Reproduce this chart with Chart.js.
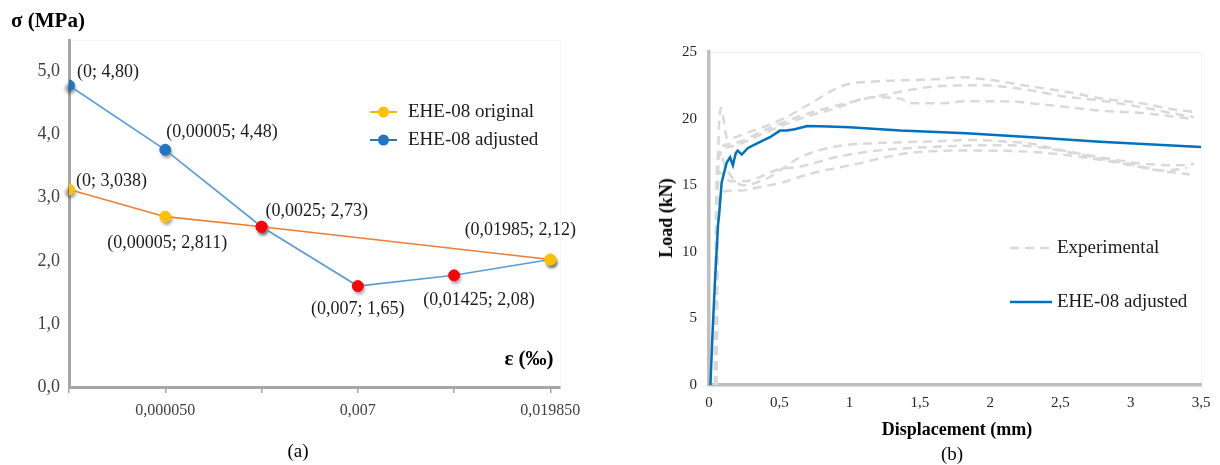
<!DOCTYPE html>
<html>
<head>
<meta charset="utf-8">
<script src="https://cdn.jsdelivr.net/npm/chart.js@4.4.1/dist/chart.umd.min.js"></script>
<style>
  body { margin: 0; background: #fff; width: 1220px; height: 465px; position: relative; overflow: hidden;
         font-family: 'Liberation Serif', 'Times New Roman', serif; }
  .box { position: absolute; top: 0; width: 610px; height: 465px; }
  .txt { position: absolute; white-space: nowrap; color: #000; line-height: 1; transform: translate(-50%, -50%); }
  .bold { font-weight: bold; }
</style>
</head>
<body>
<div class="box" style="left:0"><canvas id="chartA"></canvas></div>
<div class="box" style="left:610px"><canvas id="chartB"></canvas></div>

<div class="txt bold" style="left:48px;top:20px;font-size:21px">σ (MPa)</div>
<div class="txt bold" style="left:529px;top:358px;font-size:21px">ε (‰)</div>
<div class="txt" style="left:298px;top:450px;font-size:19px">(a)</div>
<div class="txt bold" style="left:957px;top:429px;font-size:18px">Displacement (mm)</div>
<div class="txt bold" style="left:666px;top:218px;font-size:18px;transform:translate(-50%,-50%) rotate(-90deg)">Load (kN)</div>
<div class="txt" style="left:952px;top:453px;font-size:19px">(b)</div>

<script>
// ---------- (a) stress-strain ----------
const strainCats = ['0', '0,00005', '0,0025', '0,007', '0,01425', '0,01985'];
const strainTicks = ['', '0,000050', '', '0,007', '', '0,019850'];
const stressTicks = [0, 1, 2, 3, 4, 5];
const adjustedStress = [4.78, 3.76, 2.54, 1.60, 1.77, 2.02];
const originalStress = [3.13, 2.70, 2.54, null, null, 2.02];
const adjustedLabels = ['(0; 4,80)', '(0,00005; 4,48)', '(0,0025; 2,73)', '(0,007; 1,65)', '(0,01425; 2,08)', '(0,01985; 2,12)'];
const originalLabels = ['(0; 3,038)', '(0,00005; 2,811)', null, null, null, null];
const seriesA = ['EHE-08 original', 'EHE-08 adjusted'];

// ---------- (b) load-displacement ----------
const dispTicks = [0, 0.5, 1, 1.5, 2, 2.5, 3, 3.5];
const loadTicks = [0, 5, 10, 15, 20, 25];
const seriesB = ['Experimental', 'EHE-08 adjusted'];
const adjustedCurve = [[0.01, 0], [0.026, 4.1], [0.043, 7.9], [0.064, 12.0], [0.073, 12.9], [0.09, 15.2], [0.126, 16.7],
  [0.15, 17.1], [0.17, 16.5], [0.19, 17.4], [0.204, 17.6], [0.233, 17.3], [0.277, 17.8], [0.375, 18.3], [0.434, 18.6],
  [0.505, 19.1], [0.553, 19.1], [0.61, 19.2], [0.7, 19.45], [0.85, 19.4], [1.0, 19.35], [1.36, 19.1], [1.83, 18.9],
  [2.3, 18.6], [2.78, 18.27], [3.26, 18.0], [3.5, 17.87]];
const exp1 = [[0.05, 0], [0.06, 14], [0.07, 19], [0.085, 20.8], [0.13, 18.5], [0.29, 19.0], [0.53, 20.0], [0.7, 21.0],
  [0.96, 22.5], [1.2, 22.8], [1.6, 22.95], [1.8, 23.1], [2.0, 22.9], [2.3, 22.4], [2.55, 22.0], [2.8, 21.5], [3.05, 21.2],
  [3.3, 20.7], [3.45, 20.5]];
const exp2 = [[0.045, 0], [0.055, 14], [0.07, 17.6], [0.15, 18.1], [0.41, 19.2], [0.65, 20.2], [0.88, 20.9], [1.12, 21.5],
  [1.35, 22.0], [1.59, 22.4], [1.95, 22.5], [2.3, 22.1], [2.5, 21.7], [2.75, 21.4], [3.0, 21.0], [3.2, 20.6], [3.45, 20.1]];
const exp3 = [[0.04, 0], [0.05, 13], [0.065, 17], [0.15, 17.9], [0.41, 19.0], [0.65, 20.0], [0.88, 20.7], [1.17, 21.6],
  [1.36, 21.5], [1.43, 21.15], [1.64, 21.15], [1.83, 21.3], [2.07, 21.3], [2.43, 21.0], [2.78, 20.6], [3.1, 20.4], [3.42, 20.0]];
const exp4 = [[0.05, 0], [0.06, 13], [0.075, 17.5], [0.12, 16.3], [0.24, 15.0], [0.41, 15.5], [0.65, 17.1], [0.9, 17.9],
  [1.3, 18.2], [1.64, 18.3], [1.83, 18.4], [2.07, 18.3], [2.3, 18.1], [2.43, 17.8], [2.62, 17.4], [2.9, 16.9], [3.1, 16.6],
  [3.35, 16.5], [3.45, 16.6]];
const exp5 = [[0.045, 0], [0.055, 12], [0.07, 16], [0.15, 15.3], [0.25, 15.3], [0.5, 16.2], [0.65, 16.4], [0.9, 17.1],
  [1.2, 17.6], [1.64, 17.9], [2.0, 18.0], [2.3, 17.9], [2.55, 17.5], [2.78, 17.0], [3.0, 16.6], [3.25, 16.1], [3.4, 16.3]];
const exp6 = [[0.055, 0], [0.065, 12], [0.09, 14.5], [0.22, 14.6], [0.38, 14.9], [0.52, 15.2], [0.7, 15.8], [1.05, 16.6],
  [1.41, 17.4], [1.83, 17.6], [2.3, 17.5], [2.66, 17.1], [3.0, 16.5], [3.2, 16.1], [3.42, 15.8]];

Chart.defaults.font.family = "'Liberation Serif', 'Times New Roman', serif";
Chart.defaults.color = '#404040';

const BLUE_DOT = '#2472C4', YELLOW_DOT = '#FFC000', RED_DOT = '#FF0000';

function frame(color) {
  return {
    id: 'frame',
    beforeDraw(chart) {
      const a = chart.chartArea, ctx = chart.ctx;
      ctx.save();
      ctx.strokeStyle = color;
      ctx.lineWidth = 1;
      ctx.strokeRect(a.left + 0.5, a.top + 0.5, a.right - a.left, a.bottom - a.top);
      ctx.restore();
    }
  };
}

function insideLegend(items) {
  return {
    id: 'insideLegend',
    afterDraw(chart) {
      const ctx = chart.ctx;
      ctx.save();
      items.forEach(it => {
        ctx.strokeStyle = it.line;
        ctx.lineWidth = it.width;
        ctx.setLineDash(it.dash || []);
        ctx.beginPath();
        ctx.moveTo(it.x, it.y);
        ctx.lineTo(it.x + it.len, it.y);
        ctx.stroke();
        ctx.setLineDash([]);
        if (it.dot) {
          ctx.fillStyle = it.dot;
          ctx.beginPath();
          ctx.arc(it.x + it.len / 2, it.y, 5.5, 0, Math.PI * 2);
          ctx.fill();
        }
        ctx.fillStyle = '#1a1a1a';
        ctx.font = "19px 'Liberation Serif'";
        ctx.textAlign = 'left';
        ctx.textBaseline = 'middle';
        ctx.fillText(it.text, it.x + it.len + it.gap, it.y);
      });
      ctx.restore();
    }
  };
}

// label offsets [dx, dy, align] per dataset (adjusted, original)
const labelOffsets = [
  [[8, -13, 'left'], [1, -18, 'left'], [4, -15, 'left'], [0, 23, 'center'], [25, 25, 'center'], [-30, -29, 'center']],
  [[7, -8, 'left'], [2, 27, 'center'], null, null, null, null]
];

const pointLabels = {
  id: 'pointLabels',
  afterDatasetsDraw(chart) {
    const ctx = chart.ctx;
    ctx.save();
    ctx.font = "18px 'Liberation Serif'";
    ctx.fillStyle = '#1a1a1a';
    ctx.textBaseline = 'middle';
    [adjustedLabels, originalLabels].forEach((labels, d) => {
      const meta = chart.getDatasetMeta(d);
      labels.forEach((txt, i) => {
        if (!txt) return;
        const p = meta.data[i], o = labelOffsets[d][i];
        ctx.textAlign = o[2];
        ctx.fillText(txt, p.x + o[0], p.y + o[1]);
      });
    });
    ctx.restore();
  }
};

const markerShadow = {
  id: 'markerShadow',
  beforeDatasetsDraw(chart) {
    const ctx = chart.ctx;
    ctx.save();
    ctx.fillStyle = 'rgba(0,0,0,0.35)';
    ctx.filter = 'blur(1.5px)';
    chart.data.datasets.forEach((ds, d) => {
      chart.getDatasetMeta(d).data.forEach((p, i) => {
        if (ds.data[i].y == null) return;
        ctx.beginPath();
        ctx.arc(p.x + 1.5, p.y + 3, 5.5, 0, Math.PI * 2);
        ctx.fill();
      });
    });
    ctx.restore();
  }
};

const adjustedColors = [BLUE_DOT, BLUE_DOT, RED_DOT, RED_DOT, RED_DOT, YELLOW_DOT];
const originalColors = [YELLOW_DOT, YELLOW_DOT, RED_DOT, YELLOW_DOT, YELLOW_DOT, YELLOW_DOT];

new Chart(document.getElementById('chartA'), {
  type: 'line',
  data: {
    datasets: [{
      label: seriesA[1],
      data: adjustedStress.map((v, i) => ({ x: i, y: v })),
      borderColor: '#5B9BD5',
      borderWidth: 1.6,
      pointRadius: 5.5,
      pointBackgroundColor: adjustedColors,
      pointBorderColor: adjustedColors,
      pointBorderWidth: 1
    }, {
      label: seriesA[0],
      data: originalStress.map((v, i) => ({ x: i, y: v })),
      spanGaps: true,
      borderColor: '#ED7D31',
      borderWidth: 1.6,
      pointRadius: 5.5,
      pointBackgroundColor: originalColors,
      pointBorderColor: originalColors,
      pointBorderWidth: 1
    }]
  },
  options: {
    responsive: true,
    maintainAspectRatio: false,
    animation: false,
    layout: { padding: { left: 0, top: 40, right: 50, bottom: 48 } },
    plugins: { legend: { display: false }, tooltip: { enabled: false } },
    scales: {
      x: {
        type: 'linear', min: 0, max: 5.1,
        afterBuildTicks: s => { s.ticks = strainCats.map((c, i) => ({ value: i })); },
        afterFit: s => { s.height = 30; },
        ticks: { callback: v => strainTicks[v] || '', font: { size: 16 }, color: '#404040', padding: 8, maxRotation: 0, autoSkip: false },
        grid: { display: true, drawOnChartArea: false, drawTicks: true, tickLength: 6, color: '#a6a6a6', lineWidth: 1.5 },
        border: { display: true, color: '#a6a6a6', width: 3 }
      },
      y: {
        min: 0, max: 5.5,
        afterBuildTicks: s => { s.ticks = stressTicks.map(v => ({ value: v })); },
        afterFit: s => { s.width = 69; },
        ticks: { callback: v => v.toFixed(1).replace('.', ','), font: { size: 18 }, color: '#404040', padding: 9 },
        grid: { display: false, drawTicks: false },
        border: { display: true, color: '#a6a6a6', width: 3 }
      }
    }
  },
  plugins: [frame('#f5f5f5'), markerShadow, pointLabels, insideLegend([
    { text: seriesA[0], x: 370, y: 112, len: 27, gap: 11, line: '#F5B800', width: 2, dot: YELLOW_DOT },
    { text: seriesA[1], x: 370, y: 140, len: 27, gap: 11, line: '#2E75B6', width: 2, dot: BLUE_DOT }
  ])]
});

const expStyle = { borderColor: '#d9d9d9', borderWidth: 2.5, borderDash: [9, 6], pointRadius: 0, cubicInterpolationMode: 'monotone' };

new Chart(document.getElementById('chartB'), {
  type: 'line',
  data: {
    datasets: [
      { label: seriesB[1], data: adjustedCurve, borderColor: '#0070C0', borderWidth: 2.5, pointRadius: 0 },
      Object.assign({ label: seriesB[0], data: exp1 }, expStyle),
      Object.assign({ label: seriesB[0], data: exp2 }, expStyle),
      Object.assign({ label: seriesB[0], data: exp3 }, expStyle),
      Object.assign({ label: seriesB[0], data: exp4 }, expStyle),
      Object.assign({ label: seriesB[0], data: exp5 }, expStyle),
      Object.assign({ label: seriesB[0], data: exp6 }, expStyle)
    ]
  },
  options: {
    responsive: true,
    maintainAspectRatio: false,
    animation: false,
    layout: { padding: { left: 0, top: 52, right: 19, bottom: 50 } },
    plugins: { legend: { display: false }, tooltip: { enabled: false } },
    scales: {
      x: {
        type: 'linear', min: 0, max: 3.5,
        afterBuildTicks: s => { s.ticks = dispTicks.map(v => ({ value: v })); },
        afterFit: s => { s.height = 30; },
        ticks: { callback: v => String(v).replace('.', ','), font: { size: 15 }, color: '#262626', padding: 9, maxRotation: 0, autoSkip: false },
        grid: { display: false, drawTicks: false },
        border: { display: true, color: '#bfbfbf', width: 3.5 }
      },
      y: {
        min: 0, max: 25,
        afterBuildTicks: s => { s.ticks = loadTicks.map(v => ({ value: v })); },
        afterFit: s => { s.width = 99; },
        ticks: { font: { size: 15 }, color: '#262626', padding: 12 },
        grid: { display: false, drawTicks: false },
        border: { display: true, color: '#bfbfbf', width: 3.5 }
      }
    }
  },
  plugins: [frame('#f2f2f2'), insideLegend([
    { text: seriesB[0], x: 400, y: 248, len: 42, gap: 5, line: '#d9d9d9', width: 2.5, dash: [9, 6] },
    { text: seriesB[1], x: 400, y: 302, len: 42, gap: 5, line: '#0070C0', width: 2.5 }
  ])]
});
</script>
</body>
</html>
